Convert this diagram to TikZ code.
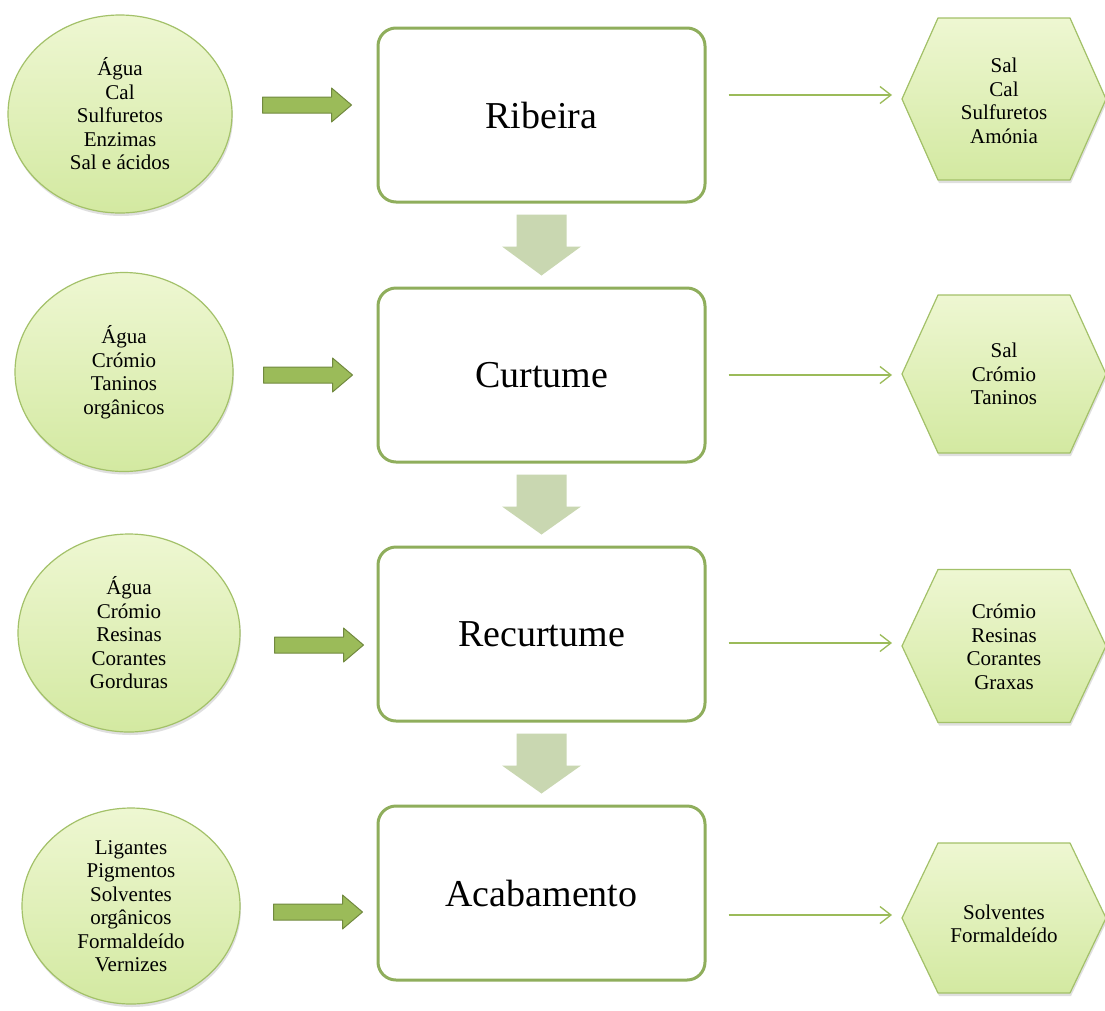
\documentclass[tikz,border=0pt]{standalone}
\usepackage{fontspec}
\setmainfont{Liberation Serif}
\usetikzlibrary{calc,shapes.geometric,shadows,arrows.meta}

\definecolor{boxline}{HTML}{8FAE5C}
\definecolor{feedfill}{HTML}{9BBB59}
\definecolor{feedline}{HTML}{71893F}
\definecolor{flowfill}{HTML}{C9D7B1}
\definecolor{softtop}{HTML}{EEF7D2}
\definecolor{softbottom}{HTML}{D3E9A1}
\definecolor{softline}{HTML}{A3C169}

\begin{document}
\begin{tikzpicture}[
    x=1pt,
    y=-1pt,
    line join=round,
    stage/.style={
        draw=boxline,
        line width=3pt,
        rounded corners=18pt,
        fill=white,
        minimum width=327pt,
        minimum height=174pt,
        inner sep=0pt,
        font=\fontsize{38}{44}\selectfont
    },
    blob/.style={
        ellipse,
        draw=softline,
        line width=1.2pt,
        top color=softtop,
        bottom color=softbottom,
        drop shadow={opacity=0.25, shadow xshift=1pt, shadow yshift=-3pt},
        inner sep=0pt,
        align=center,
        font=\fontsize{21}{23.5}\selectfont
    },
    hexpath/.style={
        draw=softline,
        line width=1.2pt,
        top color=softtop,
        bottom color=softbottom,
        drop shadow={opacity=0.25, shadow xshift=1pt, shadow yshift=-3pt}
    },
    hextext/.style={
        align=center,
        inner sep=0pt,
        font=\fontsize{21}{23.5}\selectfont
    },
    feed/.style={draw=feedline, line width=1pt, fill=feedfill},
    flow/.style={fill=flowfill},
    waste/.style={
        draw=feedfill,
        line width=1.3pt,
        -{Straight Barb[length=11pt,width=17pt]},
        shorten >=10pt
    }
]
    % Page
    \fill[white] (0,0) rectangle (1105,1010);
    \useasboundingbox (0,0) rectangle (1105,1010);

    % Stage boxes
    \node[stage] (ribeira)    at (541.5,115) {Ribeira};
    \node[stage] (curtume)    at (541.5,375) {Curtume};
    \node[stage] (recurtume)  at (541.5,634) {Recurtume};
    \node[stage] (acabamento) at (541.5,893) {Acabamento};

    % Inputs on the left
    \node[blob, minimum width=224pt, minimum height=198pt] (inribeira) at (120,114)
        {Água\\Cal\\Sulfuretos\\Enzimas\\Sal e ácidos};
    \node[blob, minimum width=218pt, minimum height=199pt] (incurtume) at (124,372)
        {Água\\Crómio\\Taninos\\orgânicos};
    \node[blob, minimum width=222pt, minimum height=198pt] (inrecurtume) at (129,633)
        {Água\\Crómio\\Resinas\\Corantes\\Gorduras};
    \node[blob, minimum width=218pt, minimum height=196pt] (inacabamento) at (131,906)
        {Ligantes\\Pigmentos\\Solventes\\orgânicos\\Formaldeído\\Vernizes};

    % Thick arrows into the stages
    \foreach \name/\dx/\dy in {ribeira/114/-10, curtume/113/0, recurtume/102/11, acabamento/103/19} {
        \draw[feed] ($(\name.west)+(-\dx,\dy)$) ++(0,-8) -- ++(69,0) -- ++(0,-9)
            -- ++(20,17) -- ++(-20,17) -- ++(0,-9) -- ++(-69,0) -- cycle;
    }

    % Flow between the stages
    \foreach \from/\to in {ribeira/curtume, curtume/recurtume, recurtume/acabamento} {
        \fill[flow] ($(\from.south)+(-25,11)$) -- ++(50,0) -- ++(0,32) -- ++(14.5,0)
            -- ($(\to.north)+(0,-11)$) -- ($(\from.south)+(-39.5,43)$) -- ++(14.5,0) -- cycle;
    }

    % Outputs on the right
    \foreach \name/\yc/\h in {ribeira/99/162, curtume/374/158, recurtume/646/153, acabamento/918/150} {
        \draw[hexpath] (902,\yc) coordinate (tip\name) -- ++(36,-\h/2) -- ++(132,0)
            -- ++(36,\h/2) -- ++(-36,\h/2) -- ++(-132,0) -- cycle;
    }

    \node[hextext] (outribeira)    at (1004,101) {Sal\\Cal\\Sulfuretos\\Amónia};
    \node[hextext] (outcurtume)    at (1004,374) {Sal\\Crómio\\Taninos};
    \node[hextext] (outrecurtume)  at (1004,647) {Crómio\\Resinas\\Corantes\\Graxas};
    \node[hextext] (outacabamento) at (1004,924) {Solventes\\Formaldeído};

    % Thin arrows to the outputs
    \foreach \name/\ya in {ribeira/95, curtume/375, recurtume/643, acabamento/915} {
        \draw[waste] ($(\name.east |- 0,\ya)+(22,0)$) -- (tip\name |- 0,\ya);
    }
\end{tikzpicture}
\end{document}
